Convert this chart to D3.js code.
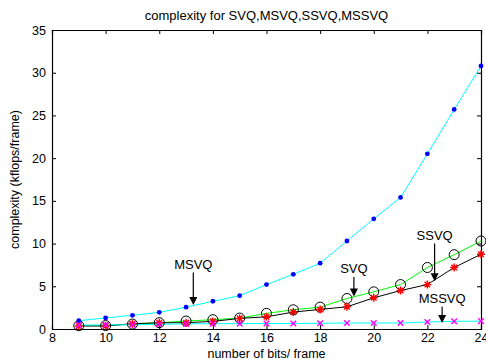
<!DOCTYPE html>
<html>
<head>
<meta charset="utf-8">
<script src="https://cdn.jsdelivr.net/npm/d3@7"></script>
<style>
body { margin: 0; background: #fff; }
text { font-family: "Liberation Sans", Arial, sans-serif; }
</style>
</head>
<body>
<div id="chart"></div>
<script>
// data
var bits = [9, 10, 11, 12, 13, 14, 15, 16, 17, 18, 19, 20, 21, 22, 23, 24];
var msvq = [0.97, 1.3, 1.6, 1.95, 2.55, 3.25, 3.9, 5.2, 6.4, 7.7, 10.3, 12.9, 15.4, 20.5, 25.7, 30.8];
var ssvq = [0.39, 0.4, 0.58, 0.74, 0.93, 1.09, 1.28, 1.83, 2.25, 2.56, 3.57, 4.35, 5.2, 7.2, 8.7, 10.3];
var svq = [0.35, 0.35, 0.62, 0.72, 0.74, 0.89, 1.24, 1.43, 1.98, 2.29, 2.6, 3.65, 4.5, 5.2, 7.2, 8.75];
var mssvq = [0.45, 0.48, 0.5, 0.55, 0.6, 0.62, 0.63, 0.64, 0.65, 0.67, 0.7, 0.7, 0.7, 0.82, 0.9, 0.92];
var xTicks = [8, 10, 12, 14, 16, 18, 20, 22, 24];
var yTicks = [0, 5, 10, 15, 20, 25, 30, 35];

// annotations: label, arrow x, arrow top y, arrow tip y (data units)
var notes = [
  { name: "MSVQ", x: 13.27, y0: 6.6, y1: 2.8 },
  { name: "SVQ", x: 19.26, y0: 6.1, y1: 3.8 },
  { name: "SSVQ", x: 22.27, y0: 10.0, y1: 5.6 },
  { name: "MSSVQ", x: 22.55, y0: 2.6, y1: 0.7 }
];

var w = 486;
var h = 361;
var margin = { left: 52, right: 5, top: 30, bottom: 32 };

var svg = d3.select("#chart")
	.append("svg")
	.attr("width", w)
	.attr("height", h);

var x = d3.scaleLinear().domain([8, 24]).range([margin.left, w - margin.right]);
var y = d3.scaleLinear().domain([0, 35]).range([h - margin.bottom, margin.top]);

// axes, matlab style ticks pointing inwards
svg.append("g")
	.attr("transform", "translate(0," + y(0) + ")")
	.call(d3.axisBottom(x).tickValues(xTicks).tickSize(-4).tickPadding(4));
svg.append("g")
	.attr("transform", "translate(0," + y(35) + ")")
	.call(d3.axisTop(x).tickValues(xTicks).tickSize(-4).tickFormat(""));
svg.append("g")
	.attr("transform", "translate(" + x(8) + ",0)")
	.call(d3.axisLeft(y).tickValues(yTicks).tickSize(-4).tickPadding(6));
svg.append("g")
	.attr("transform", "translate(" + x(24) + ",0)")
	.call(d3.axisRight(y).tickValues(yTicks).tickSize(-4).tickFormat(""));

svg.selectAll(".domain").attr("stroke", "#000").attr("stroke-width", 1.2);
svg.selectAll(".tick line").attr("stroke", "#000");
svg.selectAll(".tick text")
	.attr("font-family", "Liberation Sans, Arial, sans-serif")
	.attr("font-size", "12.5px")
	.attr("fill", "#000");

var line = d3.line()
	.x(function(d, i) { return x(bits[i]); })
	.y(function(d) { return y(d); });

function drawLine(data, color) {
	svg.append("path")
		.datum(data)
		.attr("fill", "none")
		.attr("stroke", color)
		.attr("stroke-width", 1)
		.attr("d", line);
}

drawLine(ssvq, "#00ff00");
drawLine(svq, "#000000");
drawLine(msvq, "#00ffff");
drawLine(mssvq, "#00ffff");

// circles for ssvq
svg.selectAll("circle.ssvq")
	.data(ssvq)
	.enter()
	.append("circle")
	.attr("cx", function(d, i) { return x(bits[i]); })
	.attr("cy", function(d) { return y(d); })
	.attr("r", 5)
	.attr("fill", "none")
	.attr("stroke", "#000")
	.attr("stroke-width", 1);

// asterisks for svq
var star = "M0,-4V4M-4,0H4M-2.8,-2.8L2.8,2.8M-2.8,2.8L2.8,-2.8";
svg.selectAll("path.svq")
	.data(svq)
	.enter()
	.append("path")
	.attr("d", star)
	.attr("transform", function(d, i) {
		return "translate(" + x(bits[i]) + "," + y(d) + ")";
	})
	.attr("stroke", "#ff0000")
	.attr("stroke-width", 1.4)
	.attr("fill", "none");

// dots for msvq
svg.selectAll("circle.msvq")
	.data(msvq)
	.enter()
	.append("circle")
	.attr("cx", function(d, i) { return x(bits[i]); })
	.attr("cy", function(d) { return y(d); })
	.attr("r", 2.4)
	.attr("fill", "#0000ff");

// crosses for mssvq
var cross = "M-2.8,-2.8L2.8,2.8M-2.8,2.8L2.8,-2.8";
svg.selectAll("path.mssvq")
	.data(mssvq)
	.enter()
	.append("path")
	.attr("d", cross)
	.attr("transform", function(d, i) {
		return "translate(" + x(bits[i]) + "," + y(d) + ")";
	})
	.attr("stroke", "#ff00ff")
	.attr("stroke-width", 1.4);

// annotation arrows
notes.forEach(function(n) {
	var ax = x(n.x), top = y(n.y0), tip = y(n.y1);
	svg.append("line")
		.attr("x1", ax).attr("x2", ax)
		.attr("y1", top).attr("y2", tip - 6)
		.attr("stroke", "#000")
		.attr("stroke-width", 1.2);
	svg.append("path")
		.attr("d", "M" + (ax - 4) + "," + (tip - 8) + "L" + (ax + 4) + "," + (tip - 8) + "L" + ax + "," + tip + "Z")
		.attr("fill", "#000");
	svg.append("text")
		.attr("x", ax)
		.attr("y", top - 4)
		.attr("text-anchor", "middle")
		.attr("font-size", "13px")
		.attr("fill", "#000")
		.text(n.name);
});

// titles
svg.append("text")
	.attr("x", (x(8) + x(24)) / 2)
	.attr("y", 20)
	.attr("text-anchor", "middle")
	.attr("font-size", "13px")
	.text("complexity for SVQ,MSVQ,SSVQ,MSSVQ");

svg.append("text")
	.attr("x", (x(8) + x(24)) / 2)
	.attr("y", 357.5)
	.attr("text-anchor", "middle")
	.attr("font-size", "12.5px")
	.text("number of bits/ frame");

svg.append("text")
	.attr("transform", "translate(19," + (y(0) + y(35)) / 2 + ") rotate(-90)")
	.attr("text-anchor", "middle")
	.attr("font-size", "12.5px")
	.text("complexity (kflops/frame)");
</script>
</body>
</html>
